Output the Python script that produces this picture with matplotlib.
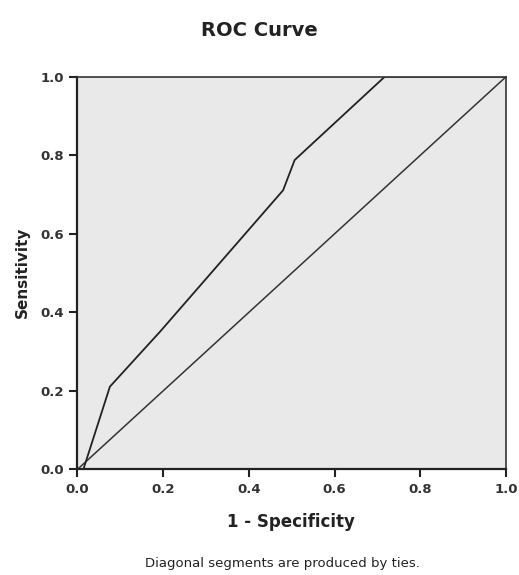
import matplotlib
matplotlib.use("Agg")
from matplotlib import pyplot as plt

# ROC curve points
fpr = [0.0, 0.014, 0.076, 0.193, 0.480, 0.507, 0.717, 1.0]
tpr = [0.0, 0.0, 0.211, 0.351, 0.711, 0.788, 1.0, 1.0]
ref_x = [0.0, 1.0]
ref_y = [0.0, 1.0]
ticks = [0.0, 0.2, 0.4, 0.6, 0.8, 1.0]
tick_labels = ["0.0", "0.2", "0.4", "0.6", "0.8", "1.0"]

fig = plt.figure(figsize=(5.19, 5.75), dpi=100)
ax = fig.add_axes([0.149, 0.1835, 0.826, 0.683])
ax.set_facecolor("#e9e9e9")

ax.plot(ref_x, ref_y, color="#333333", lw=1.1)
ax.plot(fpr, tpr, color="#222222", lw=1.3)

ax.set_xlim(0, 1)
ax.set_ylim(0, 1)
ax.set_xticks(ticks)
ax.set_yticks(ticks)
ax.set_xticklabels(tick_labels)
ax.set_yticklabels(tick_labels)
ax.tick_params(length=6, width=1.5, color="#222222", labelsize=9.5,
               labelcolor="#333333")
for lbl in ax.get_xticklabels() + ax.get_yticklabels():
    lbl.set_fontweight("bold")
for side in ["left", "bottom"]:
    ax.spines[side].set_linewidth(1.6)
    ax.spines[side].set_color("#222222")
for side in ["top", "right"]:
    ax.spines[side].set_linewidth(1.2)
    ax.spines[side].set_color("#333333")

fig.text(0.5, 1 - 30 / 575, "ROC Curve", ha="center", va="center",
         fontsize=14, fontweight="bold", color="#222222")
fig.text(0.56, 1 - 522 / 575, "1 - Specificity", ha="center", va="center",
         fontsize=12, fontweight="bold", color="#222222")
fig.text(22 / 519, 1 - 272 / 575, "Sensitivity", ha="center", va="center",
         rotation=90, fontsize=11, fontweight="bold", color="#222222")
fig.text(0.545, 1 - 563 / 575, "Diagonal segments are produced by ties.",
         ha="center", va="center", fontsize=9.5, color="#222222")

fig.savefig("out.png", dpi=100)
